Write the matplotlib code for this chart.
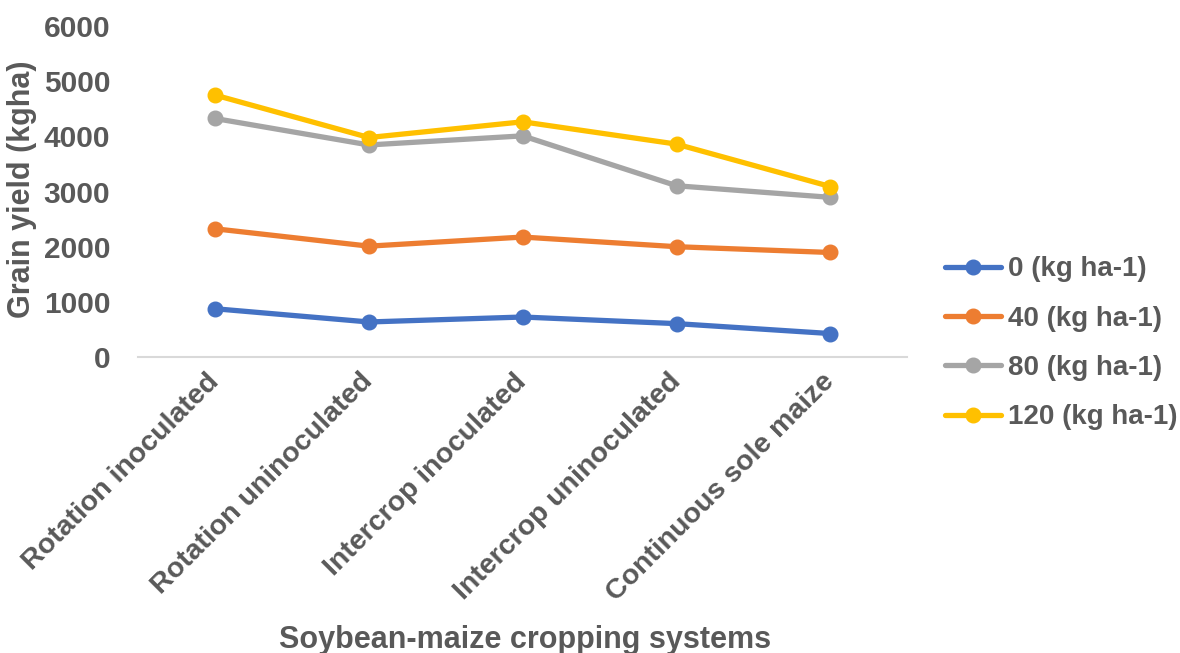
import matplotlib
matplotlib.use("Agg")
import matplotlib.pyplot as plt

# Grain yield by cropping system and N rate
sistemas = ["Rotation inoculated", "Rotation uninoculated", "Intercrop inoculated",
            "Intercrop uninoculated", "Continuous sole maize"]
n0 = [875, 635, 725, 605, 425]
n40 = [2325, 2010, 2175, 2000, 1895]
n80 = [4325, 3845, 4010, 3105, 2895]
n120 = [4750, 3980, 4265, 3860, 3090]
etiquetas = ["0 (kg ha-1)", "40 (kg ha-1)", "80 (kg ha-1)", "120 (kg ha-1)"]
colores = ["#4472C4", "#ED7D31", "#A5A5A5", "#FFC000"]
yticks = [0, 1000, 2000, 3000, 4000, 5000, 6000]

GRIS = "#595959"
plt.rcParams["font.family"] = ["Liberation Sans", "DejaVu Sans"]
plt.rcParams["font.weight"] = "bold"

fig = plt.figure(figsize=(11.8, 6.53), dpi=100)
ax = fig.add_axes([0.117, 0.4533, 0.652, 0.5067])

x = range(len(sistemas))
for serie, etq, col in zip([n0, n40, n80, n120], etiquetas, colores):
    ax.plot(x, serie, color=col, lw=3.8, marker="o", ms=10.5, label=etq,
            solid_capstyle="round")

ax.set_xlim(-0.5, len(sistemas) - 0.5)
ax.set_ylim(0, 6000)
ax.set_yticks(yticks)
ax.set_yticklabels([str(v) for v in yticks], fontsize=21.5, color=GRIS, fontweight="bold")
ax.set_xticks(list(x))
ax.set_xticklabels(sistemas, rotation=45, ha="right", va="center",
                   rotation_mode="anchor", fontsize=20.5, color=GRIS, fontweight="bold")
ax.tick_params(axis="both", length=0)
ax.tick_params(axis="y", pad=20)
ax.tick_params(axis="x", pad=15)

for lado in ["top", "right", "left"]:
    ax.spines[lado].set_visible(False)
ax.spines["bottom"].set_color("#D9D9D9")
ax.spines["bottom"].set_linewidth(1.5)

# titulos de los ejes
fig.text(0.019, 0.71, "Grain yield (kgha)", fontsize=22, color=GRIS, fontweight="bold",
         rotation=90, ha="center", va="center")
fig.text(0.445, 0.02, "Soybean-maize cropping systems", fontsize=22, color=GRIS,
         fontweight="bold", ha="center", va="center")

leg = fig.legend(loc="center left", bbox_to_anchor=(0.78, 0.474), frameon=False,
                 handlelength=2.0, handletextpad=0.25, labelspacing=0.84,
                 prop={"size": 20, "weight": "bold"})
for t in leg.get_texts():
    t.set_color(GRIS)

fig.savefig("out.png", dpi=100)
